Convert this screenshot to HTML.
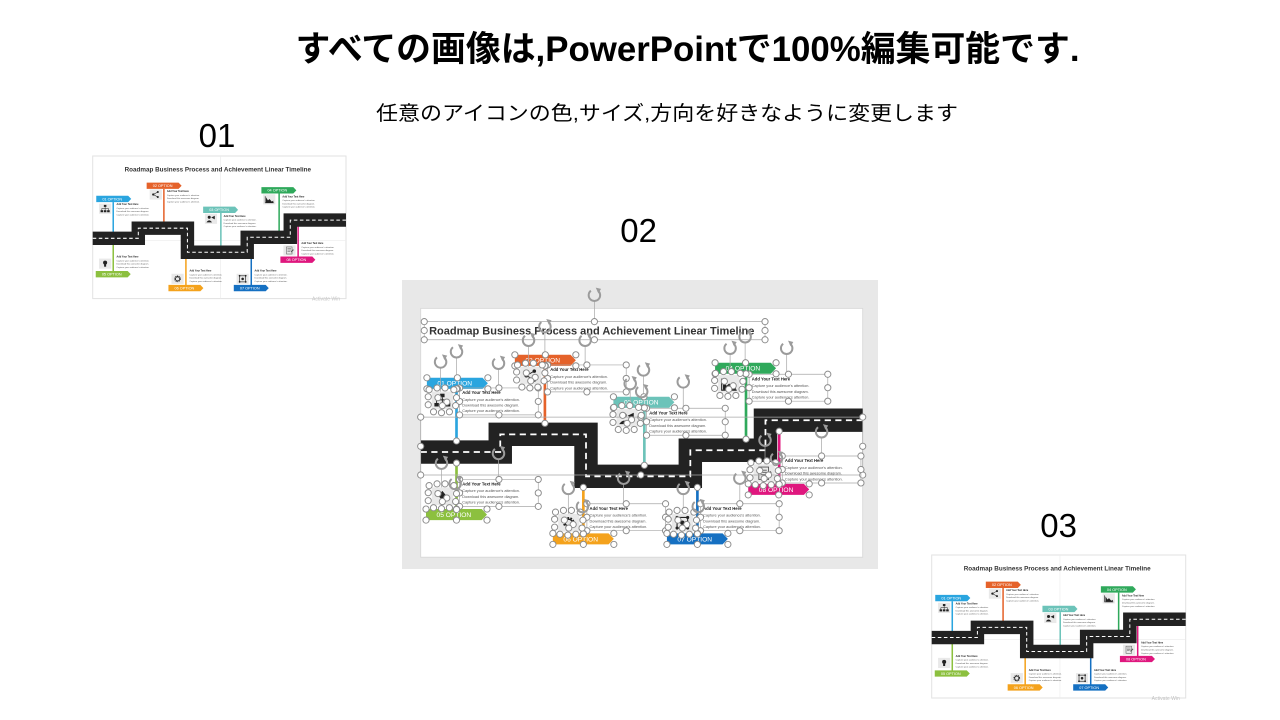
<!DOCTYPE html>
<html><head><meta charset="utf-8"><style>
html,body{margin:0;padding:0;background:#fff;width:1280px;height:720px;overflow:hidden}
svg{display:block}
.t{font-family:"Liberation Sans",Arial,sans-serif;font-weight:bold;font-size:24px;fill:#333}
.lt text{font-family:"Liberation Sans",Arial,sans-serif;font-size:15px;fill:#fff;text-anchor:middle}
.h{font-family:"Liberation Sans",Arial,sans-serif;font-weight:bold;font-size:9.5px;fill:#222}
.b{font-family:"Liberation Sans",Arial,sans-serif;font-size:8.6px;fill:#555}
.hp{fill:none;stroke:none;marker-start:url(#hd);marker-mid:url(#hd);marker-end:url(#hd)}
.hb{fill:none;stroke:#a8a8a8;stroke-width:1.6;marker-start:url(#hd);marker-mid:url(#hd)}
</style></head><body>
<svg width="1280" height="720" viewBox="0 0 1280 720" xmlns="http://www.w3.org/2000/svg">
<defs>
<marker id="hd" markerUnits="userSpaceOnUse" markerWidth="20" markerHeight="20" refX="10" refY="10" overflow="visible"><circle cx="10" cy="10" r="7" fill="#fff" stroke="#8c8c8c" stroke-width="2.2"/></marker>
<g id="rot"><path d="M8 -10A13 13 0 1 1 -8 -10" fill="none" stroke="#9b9b9b" stroke-width="4.5"/><path d="M3 -17L15 -14L9 -4Z" fill="#9b9b9b"/></g>
</defs>
<rect width="1280" height="720" fill="#fff"/>

<text x="295.5" y="61" font-family="'Liberation Sans','Noto Sans CJK JP',sans-serif" font-size="35" font-weight="bold" fill="#000" textLength="784" lengthAdjust="spacingAndGlyphs">すべての画像は,PowerPointで100%編集可能です.</text>
<text x="376" y="120" font-family="'Liberation Sans','Noto Sans CJK JP',sans-serif" font-size="20" fill="#000" textLength="582" lengthAdjust="spacingAndGlyphs">任意のアイコンの色,サイズ,方向を好きなように変更します</text>
<text x="198.6" y="147" font-family="'Liberation Sans',Arial,sans-serif" font-size="33" fill="#000">01</text>
<text x="620.3" y="242" font-family="'Liberation Sans',Arial,sans-serif" font-size="33" fill="#000">02</text>
<text x="1040.3" y="537" font-family="'Liberation Sans',Arial,sans-serif" font-size="33" fill="#000">03</text>

<!-- ================= SLIDE 01 ================= -->
<svg x="92.7" y="156" width="253.3" height="142.6" viewBox="0 0 1000 563" overflow="visible">
<rect width="1000" height="563" fill="#fff" stroke="#e2e2e2" stroke-width="4"/>
<path d="M505 0V563M0 333H1000" stroke="#ececec" stroke-width="2.5"/>
<text class="t" x="126" y="62" textLength="736" lengthAdjust="spacingAndGlyphs">Roadmap Business Process and Achievement Linear Timeline</text>
<g stroke-width="6" fill="none">
<path stroke="#2aa5df" d="M81 182V300"/><path stroke="#8cc03f" d="M81 350V455"/>
<path stroke="#e5622a" d="M281 130V260"/><path stroke="#f4a21c" d="M368 405V510"/>
<path stroke="#6cc3b9" d="M506 225V355"/><path stroke="#1570c2" d="M626 405V510"/>
<path stroke="#2fa95b" d="M736 148V296"/><path stroke="#df177e" d="M811 278V398"/>
</g>
<path d="M0 325H180V285H374V380H610V321H780V253H1000" fill="none" stroke="#222" stroke-width="53"/>
<path d="M0 325H180V285H374V380H610V321H780V253H1000" fill="none" stroke="#fff" stroke-width="4" stroke-dasharray="14 10"/>
<path fill="#2aa5df" d="M14 157h126l12 12.5l-12 12.5h-126z"/>
<path fill="#e5622a" d="M213 105h126l12 12.5l-12 12.5h-126z"/>
<path fill="#6cc3b9" d="M436 200h126l12 12.5l-12 12.5h-126z"/>
<path fill="#2fa95b" d="M666 123h126l12 12.5l-12 12.5h-126z"/>
<path fill="#8cc03f" d="M12 454h126l12 12.5l-12 12.5h-126z"/>
<path fill="#f4a21c" d="M299 509h126l12 12.5l-12 12.5h-126z"/>
<path fill="#1570c2" d="M557 509h126l12 12.5l-12 12.5h-126z"/>
<path fill="#df177e" d="M741 397h126l12 12.5l-12 12.5h-126z"/>
<g class="lt">
<text x="77" y="175">01 OPTION</text><text x="276" y="123">02 OPTION</text>
<text x="499" y="218">03 OPTION</text><text x="729" y="141">04 OPTION</text>
<text x="75" y="472">05 OPTION</text><text x="362" y="527">06 OPTION</text>
<text x="620" y="527">07 OPTION</text><text x="804" y="415">08 OPTION</text>
</g>
<g fill="#222">
<g transform="translate(25,188)"><rect width="48" height="40" fill="#e9e9e9"/><rect x="19" y="5" width="10" height="8"/><path d="M24 13V19M11 19H37M11 19V26M24 19V26M37 19V26" stroke="#222" stroke-width="2" fill="none"/><rect x="6" y="26" width="10" height="8"/><rect x="19" y="26" width="10" height="8"/><rect x="32" y="26" width="10" height="8"/></g>
<g transform="translate(225,132)"><rect width="48" height="40" fill="#e9e9e9"/><path d="M14 20L32 10M14 20L32 30" stroke="#222" stroke-width="2"/><circle cx="14" cy="20" r="4.5"/><circle cx="32" cy="10" r="4"/><circle cx="32" cy="30" r="4"/></g>
<g transform="translate(443,228)"><rect width="48" height="40" fill="#e9e9e9"/><circle cx="17" cy="14" r="6"/><path d="M6 34Q17 18 28 34Z"/><path d="M25 15L39 8V22Z"/></g>
<g transform="translate(673,151)"><rect width="48" height="40" fill="#e9e9e9"/><path d="M8 8V34H42" stroke="#222" stroke-width="2.5" fill="none"/><path d="M11 12L19 24L25 19L34 29L40 25V33H11Z"/></g>
<g transform="translate(25,405)"><rect width="48" height="40" fill="#e9e9e9"/><circle cx="24" cy="16" r="8"/><rect x="20" y="23" width="8" height="9"/></g>
<g transform="translate(311,465)"><rect width="48" height="40" fill="#e9e9e9"/><circle cx="24" cy="20" r="11" fill="none" stroke="#222" stroke-width="4" stroke-dasharray="4 2.9"/><circle cx="24" cy="20" r="8" fill="none" stroke="#222" stroke-width="3"/></g>
<g transform="translate(568,465)"><rect width="48" height="40" fill="#e9e9e9"/><rect x="12" y="8" width="24" height="24" fill="none" stroke="#222" stroke-width="2.5"/><circle cx="24" cy="20" r="5"/><circle cx="12" cy="8" r="3.5"/><circle cx="36" cy="8" r="3.5"/><circle cx="12" cy="32" r="3.5"/><circle cx="36" cy="32" r="3.5"/></g>
<g transform="translate(753,353)"><rect width="48" height="40" fill="#e9e9e9"/><rect x="12" y="6" width="22" height="28" fill="none" stroke="#555" stroke-width="2"/><path d="M16 13H30M16 18H30M16 23H26" stroke="#555" stroke-width="2"/><path d="M28 25L38 15L41 18L31 28Z" fill="#555"/></g>
</g>
<text class="h" x="94" y="194">Add Your Text Here</text><text class="b" x="94" y="209">Capture your audience's attention.</text><text class="b" x="94" y="222">Download this awesome diagram.</text><text class="b" x="94" y="235">Capture your audience's attention.</text>
<text class="h" x="293" y="142">Add Your Text Here</text><text class="b" x="293" y="157">Capture your audience's attention.</text><text class="b" x="293" y="170">Download this awesome diagram.</text><text class="b" x="293" y="183">Capture your audience's attention.</text>
<text class="h" x="517" y="240">Add Your Text Here</text><text class="b" x="517" y="255">Capture your audience's attention.</text><text class="b" x="517" y="268">Download this awesome diagram.</text><text class="b" x="517" y="281">Capture your audience's attention.</text>
<text class="h" x="749" y="163">Add Your Text Here</text><text class="b" x="749" y="178">Capture your audience's attention.</text><text class="b" x="749" y="191">Download this awesome diagram.</text><text class="b" x="749" y="204">Capture your audience's attention.</text>
<text class="h" x="94" y="401">Add Your Text Here</text><text class="b" x="94" y="416">Capture your audience's attention.</text><text class="b" x="94" y="429">Download this awesome diagram.</text><text class="b" x="94" y="442">Capture your audience's attention.</text>
<text class="h" x="382" y="456">Add Your Text Here</text><text class="b" x="382" y="471">Capture your audience's attention.</text><text class="b" x="382" y="484">Download this awesome diagram.</text><text class="b" x="382" y="497">Capture your audience's attention.</text>
<text class="h" x="639" y="456">Add Your Text Here</text><text class="b" x="639" y="471">Capture your audience's attention.</text><text class="b" x="639" y="484">Download this awesome diagram.</text><text class="b" x="639" y="497">Capture your audience's attention.</text>
<text class="h" x="824" y="348">Add Your Text Here</text><text class="b" x="824" y="363">Capture your audience's attention.</text><text class="b" x="824" y="376">Download this awesome diagram.</text><text class="b" x="824" y="389">Capture your audience's attention.</text>
<text x="866" y="570" font-family="'Liberation Sans',Arial,sans-serif" font-size="20" fill="#c4c4c4">Activate Win</text>
</svg>

<!-- ================= SLIDE 02 ================= -->
<rect x="402" y="280" width="476" height="289" fill="#e8e8e8"/>
<svg x="420.7" y="308.3" width="442" height="249" viewBox="0 0 1000 563" overflow="visible">
<rect width="1000" height="563" fill="#fff" stroke="#d8d8d8" stroke-width="2"/>
<text class="t" x="19" y="59" textLength="736" lengthAdjust="spacingAndGlyphs">Roadmap Business Process and Achievement Linear Timeline</text>
<g stroke-width="6" fill="none">
<path stroke="#2aa5df" d="M81 182V300"/><path stroke="#8cc03f" d="M81 350V455"/>
<path stroke="#e5622a" d="M281 130V260"/><path stroke="#f4a21c" d="M368 405V510"/>
<path stroke="#6cc3b9" d="M506 225V355"/><path stroke="#1570c2" d="M626 405V510"/>
<path stroke="#2fa95b" d="M736 148V296"/><path stroke="#df177e" d="M811 278V398"/>
</g>
<path d="M0 325H180V285H374V380H610V321H780V253H1000" fill="none" stroke="#222" stroke-width="53"/>
<path d="M0 325H180V285H374V380H610V321H780V253H1000" fill="none" stroke="#fff" stroke-width="4" stroke-dasharray="14 10"/>
<path fill="#2aa5df" d="M14 157h126l12 12.5l-12 12.5h-126z"/>
<path fill="#e5622a" d="M213 105h126l12 12.5l-12 12.5h-126z"/>
<path fill="#6cc3b9" d="M436 200h126l12 12.5l-12 12.5h-126z"/>
<path fill="#2fa95b" d="M666 123h126l12 12.5l-12 12.5h-126z"/>
<path fill="#8cc03f" d="M12 454h126l12 12.5l-12 12.5h-126z"/>
<path fill="#f4a21c" d="M299 509h126l12 12.5l-12 12.5h-126z"/>
<path fill="#1570c2" d="M557 509h126l12 12.5l-12 12.5h-126z"/>
<path fill="#df177e" d="M741 397h126l12 12.5l-12 12.5h-126z"/>
<g class="lt">
<text x="77" y="175">01 OPTION</text><text x="276" y="123">02 OPTION</text>
<text x="499" y="218">03 OPTION</text><text x="729" y="141">04 OPTION</text>
<text x="75" y="472">05 OPTION</text><text x="362" y="527">06 OPTION</text>
<text x="620" y="527">07 OPTION</text><text x="804" y="415">08 OPTION</text>
</g>
<g fill="#222">
<g transform="translate(25,188)"><rect width="48" height="40" fill="#e9e9e9"/><rect x="19" y="5" width="10" height="8"/><path d="M24 13V19M11 19H37M11 19V26M24 19V26M37 19V26" stroke="#222" stroke-width="2" fill="none"/><rect x="6" y="26" width="10" height="8"/><rect x="19" y="26" width="10" height="8"/><rect x="32" y="26" width="10" height="8"/></g>
<g transform="translate(225,132)"><rect width="48" height="40" fill="#e9e9e9"/><path d="M14 20L32 10M14 20L32 30" stroke="#222" stroke-width="2"/><circle cx="14" cy="20" r="4.5"/><circle cx="32" cy="10" r="4"/><circle cx="32" cy="30" r="4"/></g>
<g transform="translate(443,228)"><rect width="48" height="40" fill="#e9e9e9"/><circle cx="17" cy="14" r="6"/><path d="M6 34Q17 18 28 34Z"/><path d="M25 15L39 8V22Z"/></g>
<g transform="translate(673,151)"><rect width="48" height="40" fill="#e9e9e9"/><path d="M8 8V34H42" stroke="#222" stroke-width="2.5" fill="none"/><path d="M11 12L19 24L25 19L34 29L40 25V33H11Z"/></g>
<g transform="translate(25,405)"><rect width="48" height="40" fill="#e9e9e9"/><path d="M24 8L33 19L24 30L15 19Z"/></g>
<g transform="translate(311,465)"><rect width="48" height="40" fill="#e9e9e9"/><circle cx="24" cy="20" r="11" fill="none" stroke="#222" stroke-width="4" stroke-dasharray="4 2.9"/><circle cx="24" cy="20" r="8" fill="none" stroke="#222" stroke-width="3"/></g>
<g transform="translate(568,465)"><rect width="48" height="40" fill="#e9e9e9"/><rect x="12" y="8" width="24" height="24" fill="none" stroke="#222" stroke-width="2.5"/><circle cx="24" cy="20" r="5"/><circle cx="12" cy="8" r="3.5"/><circle cx="36" cy="8" r="3.5"/><circle cx="12" cy="32" r="3.5"/><circle cx="36" cy="32" r="3.5"/></g>
<g transform="translate(753,353)"><rect width="48" height="40" fill="#e9e9e9"/><rect x="12" y="6" width="22" height="28" fill="none" stroke="#555" stroke-width="2"/><path d="M16 13H30M16 18H30M16 23H26" stroke="#555" stroke-width="2"/><path d="M28 25L38 15L41 18L31 28Z" fill="#555"/></g>
</g>
<text class="h" x="94" y="194">Add Your Text Here</text><text class="b" x="94" y="209">Capture your audience's attention.</text><text class="b" x="94" y="222">Download this awesome diagram.</text><text class="b" x="94" y="235">Capture your audience's attention.</text>
<text class="h" x="293" y="142">Add Your Text Here</text><text class="b" x="293" y="157">Capture your audience's attention.</text><text class="b" x="293" y="170">Download this awesome diagram.</text><text class="b" x="293" y="183">Capture your audience's attention.</text>
<text class="h" x="517" y="240">Add Your Text Here</text><text class="b" x="517" y="255">Capture your audience's attention.</text><text class="b" x="517" y="268">Download this awesome diagram.</text><text class="b" x="517" y="281">Capture your audience's attention.</text>
<text class="h" x="749" y="163">Add Your Text Here</text><text class="b" x="749" y="178">Capture your audience's attention.</text><text class="b" x="749" y="191">Download this awesome diagram.</text><text class="b" x="749" y="204">Capture your audience's attention.</text>
<text class="h" x="94" y="401">Add Your Text Here</text><text class="b" x="94" y="416">Capture your audience's attention.</text><text class="b" x="94" y="429">Download this awesome diagram.</text><text class="b" x="94" y="442">Capture your audience's attention.</text>
<text class="h" x="382" y="456">Add Your Text Here</text><text class="b" x="382" y="471">Capture your audience's attention.</text><text class="b" x="382" y="484">Download this awesome diagram.</text><text class="b" x="382" y="497">Capture your audience's attention.</text>
<text class="h" x="639" y="456">Add Your Text Here</text><text class="b" x="639" y="471">Capture your audience's attention.</text><text class="b" x="639" y="484">Download this awesome diagram.</text><text class="b" x="639" y="497">Capture your audience's attention.</text>
<text class="h" x="824" y="348">Add Your Text Here</text><text class="b" x="824" y="363">Capture your audience's attention.</text><text class="b" x="824" y="376">Download this awesome diagram.</text><text class="b" x="824" y="389">Capture your audience's attention.</text>

<!-- selection overlay -->
<g stroke="#a8a8a8" stroke-width="1.6" fill="none">
<path d="M393 -18V30M176 136V180M372 84V128M594 178V226M828 102V149M176 340V387M459 396V442M722 396V442M907 291V334M81 110V157M281 53V105M504 151V200M734 76V123M45 133V188M244 84V132M474 182V228M700 102V151M779 310V353M47 362V405M334 419V465M594 419V465"/>
</g>
<path class="hb" d="M0 246H498H1000V312V377H498H0V312Z"/>
<path class="hb" d="M8 30H393H779V50V71H393H8V50Z"/>
<path class="hb" d="M88 180H177H266V210.5V241H177H88V210.5Z"/>
<path class="hb" d="M287 128H376H465V158.5V189H376H287V158.5Z"/>
<path class="hb" d="M511 226H600H689V256.5V287H600H511V256.5Z"/>
<path class="hb" d="M743 149H832H921V179.5V210H832H743V179.5Z"/>
<path class="hb" d="M88 387H177H266V417.5V448H177H88V417.5Z"/>
<path class="hb" d="M376 442H465H554V472.5V503H465H376V472.5Z"/>
<path class="hb" d="M633 442H722H811V472.5V503H722H633V472.5Z"/>
<path class="hb" d="M818 334H907H996V364.5V395H907H818V364.5Z"/>
<path class="hp" d="M14 157L83 157L152 157L152 182L83 182L14 182"/>
<path class="hp" d="M213 105L282 105L351 105L351 130L282 130L213 130"/>
<path class="hp" d="M436 200L505 200L574 200L574 225L505 225L436 225"/>
<path class="hp" d="M666 123L735 123L804 123L804 148L735 148L666 148"/>
<path class="hp" d="M12 454L81 454L150 454L150 479L81 479L12 479"/>
<path class="hp" d="M299 509L368 509L437 509L437 534L368 534L299 534"/>
<path class="hp" d="M557 509L626 509L695 509L695 534L626 534L557 534"/>
<path class="hp" d="M741 397L810 397L879 397L879 422L810 422L741 422"/>
<path class="hp" d="M81 182L81 300M81 350L81 455M281 130L281 260M368 405L368 510M506 225L506 355M626 405L626 510M736 148L736 296M811 278L811 398"/>
<path class="hp" transform="translate(25,188)" d="M-6 -4L12 -8L30 -8L50 -4L56 14L54 32L40 46L22 48L4 46L-8 30L-8 12L14 14L34 24L24 32"/>
<path class="hp" transform="translate(225,132)" d="M-6 -4L12 -8L30 -8L50 -4L56 14L54 32L40 46L22 48L4 46L-8 30L-8 12L14 14L34 24L24 32"/>
<path class="hp" transform="translate(443,228)" d="M-6 -4L12 -8L30 -8L50 -4L56 14L54 32L40 46L22 48L4 46L-8 30L-8 12L14 14L34 24L24 32"/>
<path class="hp" transform="translate(673,151)" d="M-6 -4L12 -8L30 -8L50 -4L56 14L54 32L40 46L22 48L4 46L-8 30L-8 12L14 14L34 24L24 32"/>
<path class="hp" transform="translate(25,405)" d="M-6 -4L12 -8L30 -8L50 -4L56 14L54 32L40 46L22 48L4 46L-8 30L-8 12L14 14L34 24L24 32"/>
<path class="hp" transform="translate(311,465)" d="M-6 -4L12 -8L30 -8L50 -4L56 14L54 32L40 46L22 48L4 46L-8 30L-8 12L14 14L34 24L24 32"/>
<path class="hp" transform="translate(568,465)" d="M-6 -4L12 -8L30 -8L50 -4L56 14L54 32L40 46L22 48L4 46L-8 30L-8 12L14 14L34 24L24 32"/>
<path class="hp" transform="translate(753,353)" d="M-6 -4L12 -8L30 -8L50 -4L56 14L54 32L40 46L22 48L4 46L-8 30L-8 12L14 14L34 24L24 32"/>
<use href="#rot" x="393" y="-30"/><use href="#rot" x="45" y="121"/><use href="#rot" x="81" y="98"/>
<use href="#rot" x="176" y="124"/><use href="#rot" x="244" y="72"/><use href="#rot" x="281" y="41"/>
<use href="#rot" x="372" y="72"/><use href="#rot" x="474" y="170"/><use href="#rot" x="504" y="139"/>
<use href="#rot" x="500" y="188"/><use href="#rot" x="594" y="166"/><use href="#rot" x="700" y="90"/>
<use href="#rot" x="734" y="64"/><use href="#rot" x="828" y="90"/><use href="#rot" x="779" y="298"/>
<use href="#rot" x="907" y="279"/><use href="#rot" x="176" y="328"/><use href="#rot" x="47" y="350"/>
<use href="#rot" x="78" y="396"/><use href="#rot" x="459" y="384"/><use href="#rot" x="334" y="407"/>
<use href="#rot" x="366" y="448"/><use href="#rot" x="594" y="407"/><use href="#rot" x="628" y="448"/>
<use href="#rot" x="722" y="384"/><use href="#rot" x="805" y="339"/>
</svg>

<!-- ================= SLIDE 03 ================= -->
<svg x="931.7" y="555" width="254" height="143" viewBox="0 0 1000 563" overflow="visible">
<rect width="1000" height="563" fill="#fff" stroke="#e2e2e2" stroke-width="4"/>
<path d="M505 0V563M0 333H1000" stroke="#ececec" stroke-width="2.5"/>
<text class="t" x="126" y="62" textLength="736" lengthAdjust="spacingAndGlyphs">Roadmap Business Process and Achievement Linear Timeline</text>
<g stroke-width="6" fill="none">
<path stroke="#2aa5df" d="M81 182V300"/><path stroke="#8cc03f" d="M81 350V455"/>
<path stroke="#e5622a" d="M281 130V260"/><path stroke="#f4a21c" d="M368 405V510"/>
<path stroke="#6cc3b9" d="M506 225V355"/><path stroke="#1570c2" d="M626 405V510"/>
<path stroke="#2fa95b" d="M736 148V296"/><path stroke="#df177e" d="M811 278V398"/>
</g>
<path d="M0 325H180V285H374V380H610V321H780V253H1000" fill="none" stroke="#222" stroke-width="53"/>
<path d="M0 325H180V285H374V380H610V321H780V253H1000" fill="none" stroke="#fff" stroke-width="4" stroke-dasharray="14 10"/>
<path fill="#2aa5df" d="M14 157h126l12 12.5l-12 12.5h-126z"/>
<path fill="#e5622a" d="M213 105h126l12 12.5l-12 12.5h-126z"/>
<path fill="#6cc3b9" d="M436 200h126l12 12.5l-12 12.5h-126z"/>
<path fill="#2fa95b" d="M666 123h126l12 12.5l-12 12.5h-126z"/>
<path fill="#8cc03f" d="M12 454h126l12 12.5l-12 12.5h-126z"/>
<path fill="#f4a21c" d="M299 509h126l12 12.5l-12 12.5h-126z"/>
<path fill="#1570c2" d="M557 509h126l12 12.5l-12 12.5h-126z"/>
<path fill="#df177e" d="M741 397h126l12 12.5l-12 12.5h-126z"/>
<g class="lt">
<text x="77" y="175">01 OPTION</text><text x="276" y="123">02 OPTION</text>
<text x="499" y="218">03 OPTION</text><text x="729" y="141">04 OPTION</text>
<text x="75" y="472">05 OPTION</text><text x="362" y="527">06 OPTION</text>
<text x="620" y="527">07 OPTION</text><text x="804" y="415">08 OPTION</text>
</g>
<g fill="#222">
<g transform="translate(25,188)"><rect width="48" height="40" fill="#e9e9e9"/><rect x="19" y="5" width="10" height="8"/><path d="M24 13V19M11 19H37M11 19V26M24 19V26M37 19V26" stroke="#222" stroke-width="2" fill="none"/><rect x="6" y="26" width="10" height="8"/><rect x="19" y="26" width="10" height="8"/><rect x="32" y="26" width="10" height="8"/></g>
<g transform="translate(225,132)"><rect width="48" height="40" fill="#e9e9e9"/><path d="M14 20L32 10M14 20L32 30" stroke="#222" stroke-width="2"/><circle cx="14" cy="20" r="4.5"/><circle cx="32" cy="10" r="4"/><circle cx="32" cy="30" r="4"/></g>
<g transform="translate(443,228)"><rect width="48" height="40" fill="#e9e9e9"/><circle cx="17" cy="14" r="6"/><path d="M6 34Q17 18 28 34Z"/><path d="M25 15L39 8V22Z"/></g>
<g transform="translate(673,151)"><rect width="48" height="40" fill="#e9e9e9"/><path d="M8 8V34H42" stroke="#222" stroke-width="2.5" fill="none"/><path d="M11 12L19 24L25 19L34 29L40 25V33H11Z"/></g>
<g transform="translate(25,405)"><rect width="48" height="40" fill="#e9e9e9"/><circle cx="24" cy="16" r="8"/><rect x="20" y="23" width="8" height="9"/></g>
<g transform="translate(311,465)"><rect width="48" height="40" fill="#e9e9e9"/><circle cx="24" cy="20" r="11" fill="none" stroke="#222" stroke-width="4" stroke-dasharray="4 2.9"/><circle cx="24" cy="20" r="8" fill="none" stroke="#222" stroke-width="3"/></g>
<g transform="translate(568,465)"><rect width="48" height="40" fill="#e9e9e9"/><rect x="12" y="8" width="24" height="24" fill="none" stroke="#222" stroke-width="2.5"/><circle cx="24" cy="20" r="5"/><circle cx="12" cy="8" r="3.5"/><circle cx="36" cy="8" r="3.5"/><circle cx="12" cy="32" r="3.5"/><circle cx="36" cy="32" r="3.5"/></g>
<g transform="translate(753,353)"><rect width="48" height="40" fill="#e9e9e9"/><rect x="12" y="6" width="22" height="28" fill="none" stroke="#555" stroke-width="2"/><path d="M16 13H30M16 18H30M16 23H26" stroke="#555" stroke-width="2"/><path d="M28 25L38 15L41 18L31 28Z" fill="#555"/></g>
</g>
<text class="h" x="94" y="194">Add Your Text Here</text><text class="b" x="94" y="209">Capture your audience's attention.</text><text class="b" x="94" y="222">Download this awesome diagram.</text><text class="b" x="94" y="235">Capture your audience's attention.</text>
<text class="h" x="293" y="142">Add Your Text Here</text><text class="b" x="293" y="157">Capture your audience's attention.</text><text class="b" x="293" y="170">Download this awesome diagram.</text><text class="b" x="293" y="183">Capture your audience's attention.</text>
<text class="h" x="517" y="240">Add Your Text Here</text><text class="b" x="517" y="255">Capture your audience's attention.</text><text class="b" x="517" y="268">Download this awesome diagram.</text><text class="b" x="517" y="281">Capture your audience's attention.</text>
<text class="h" x="749" y="163">Add Your Text Here</text><text class="b" x="749" y="178">Capture your audience's attention.</text><text class="b" x="749" y="191">Download this awesome diagram.</text><text class="b" x="749" y="204">Capture your audience's attention.</text>
<text class="h" x="94" y="401">Add Your Text Here</text><text class="b" x="94" y="416">Capture your audience's attention.</text><text class="b" x="94" y="429">Download this awesome diagram.</text><text class="b" x="94" y="442">Capture your audience's attention.</text>
<text class="h" x="382" y="456">Add Your Text Here</text><text class="b" x="382" y="471">Capture your audience's attention.</text><text class="b" x="382" y="484">Download this awesome diagram.</text><text class="b" x="382" y="497">Capture your audience's attention.</text>
<text class="h" x="639" y="456">Add Your Text Here</text><text class="b" x="639" y="471">Capture your audience's attention.</text><text class="b" x="639" y="484">Download this awesome diagram.</text><text class="b" x="639" y="497">Capture your audience's attention.</text>
<text class="h" x="824" y="348">Add Your Text Here</text><text class="b" x="824" y="363">Capture your audience's attention.</text><text class="b" x="824" y="376">Download this awesome diagram.</text><text class="b" x="824" y="389">Capture your audience's attention.</text>
<text x="866" y="570" font-family="'Liberation Sans',Arial,sans-serif" font-size="20" fill="#c4c4c4">Activate Win</text>
</svg>
</svg>
</body></html>
